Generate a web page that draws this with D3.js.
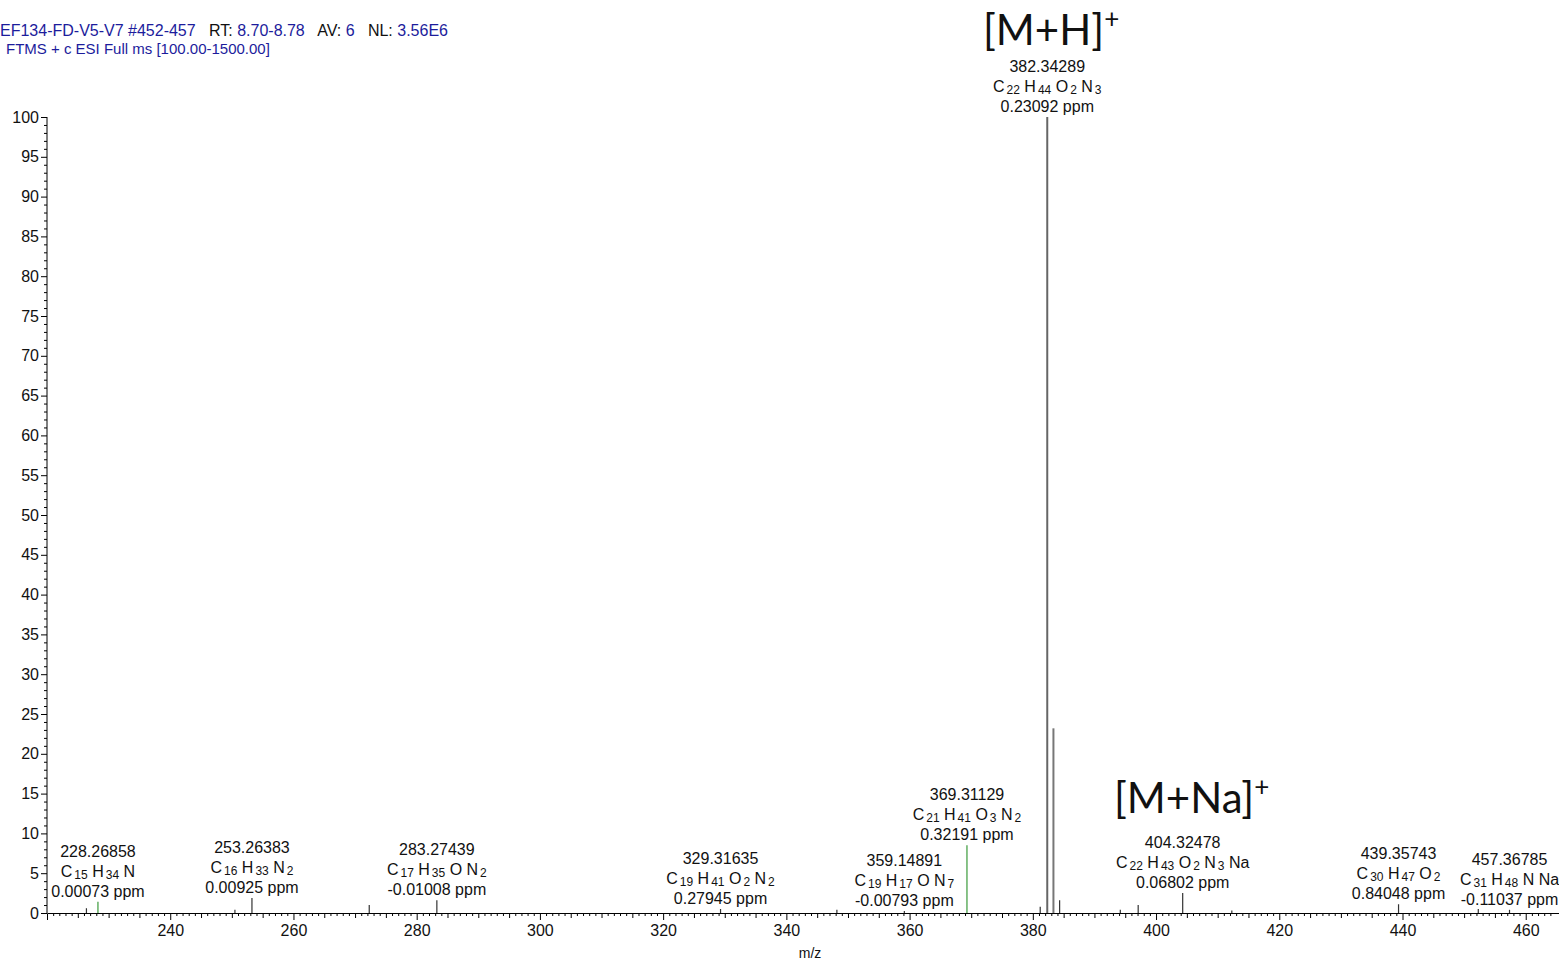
<!DOCTYPE html>
<html><head><meta charset="utf-8">
<script src="https://cdn.jsdelivr.net/npm/d3@7/dist/d3.min.js"></script>
<style>body{margin:0;background:#fff;} svg{display:block;}</style>
</head><body>
<svg id="c" width="1559" height="962"></svg>
<script>
// Labeled peaks
const peakMz = [228.26858, 253.26383, 283.27439, 329.31635, 359.14891, 369.31129, 382.34289, 404.32478, 439.35743, 457.36785];
const peakInt = [1.4, 1.9, 1.6, 0.5, 0.25, 8.5, 100, 2.5, 1.1, 0.4];
const peakFormula = [
  [["C","15"],["H","34"],["N",""]],
  [["C","16"],["H","33"],["N","2"]],
  [["C","17"],["H","35"],["O",""],["N","2"]],
  [["C","19"],["H","41"],["O","2"],["N","2"]],
  [["C","19"],["H","17"],["O",""],["N","7"]],
  [["C","21"],["H","41"],["O","3"],["N","2"]],
  [["C","22"],["H","44"],["O","2"],["N","3"]],
  [["C","22"],["H","43"],["O","2"],["N","3"],["Na",""]],
  [["C","30"],["H","47"],["O","2"]],
  [["C","31"],["H","48"],["N",""],["Na",""]]
];
const peakPpm = ["0.00073", "0.00925", "-0.01008", "0.27945", "-0.00793", "0.32191", "0.23092", "0.06802", "0.84048", "-0.11037"];
const peakGreen = [true, false, false, false, false, true, false, false, false, false];
// Unlabeled peaks
const minorMz = [383.346, 384.35, 381.2, 397.1, 272.3, 226.4, 250.5, 348.2, 412.3, 452.3, 394.2];
const minorInt = [23.2, 1.6, 0.8, 1.0, 1.0, 0.6, 0.4, 0.4, 0.3, 0.5, 0.4];
const yTicks = [0,5,10,15,20,25,30,35,40,45,50,55,60,65,70,75,80,85,90,95,100];
const xTicks = [240,260,280,300,320,340,360,380,400,420,440,460];

const svg = d3.select("#c");
const x = d3.scaleLinear().domain([220.0, 465.4]).range([47, 1559]);
const y = d3.scaleLinear().domain([0, 100]).range([913, 117]);
const font = "Liberation Sans, Arial, sans-serif";
const fs = 16;

// header
const h1 = svg.append("text").attr("x", 0).attr("y", 36).attr("font-family", font).attr("font-size", fs);
[["EF134-FD-V5-V7 #452-457","#1c1c9c"],["   RT: ","#111"],["8.70-8.78","#1c1c9c"],["   AV: ","#111"],["6","#1c1c9c"],["   NL: ","#111"],["3.56E6","#1c1c9c"]]
  .forEach(([t,c]) => h1.append("tspan").attr("fill", c).style("white-space","pre").text(t));
svg.append("text").attr("x", 6).attr("y", 54).attr("font-family", font).attr("font-size", 15)
  .attr("fill", "#1c1c9c").text("FTMS + c ESI Full ms [100.00-1500.00]");

// y axis
const yAxis = d3.axisLeft(y).tickValues(yTicks).tickSize(6).tickPadding(2).tickFormat(d3.format("d"));
const gy = svg.append("g").attr("transform", "translate(47,0)").call(yAxis);
gy.select(".domain").attr("d", `M0,${y(100)}V${y(0)}`);
gy.selectAll("text").attr("font-family", font).attr("font-size", fs).attr("fill", "#111");
const gyMinor = svg.append("g").attr("transform", "translate(47,0)")
  .call(d3.axisLeft(y).tickValues(d3.range(0, 101, 1).filter(v => v % 5)).tickSize(3).tickFormat(""));
gyMinor.select(".domain").remove();

// x axis
const xAxis = d3.axisBottom(x).tickValues(xTicks).tickSize(7).tickPadding(5).tickFormat(d3.format("d"));
const gx = svg.append("g").attr("transform", `translate(0,${y(0)})`).call(xAxis);
gx.selectAll("text").attr("font-family", font).attr("font-size", fs).attr("fill", "#111");
const mid = d3.range(225, 465, 5).filter(v => v % 20);
svg.append("g").attr("transform", `translate(0,${y(0)})`)
  .call(d3.axisBottom(x).tickValues(mid).tickSize(5).tickFormat("")).select(".domain").remove();
const minor = d3.range(221, 466, 1).filter(v => v % 5);
svg.append("g").attr("transform", `translate(0,${y(0)})`)
  .call(d3.axisBottom(x).tickValues(minor).tickSize(3).tickFormat("")).select(".domain").remove();
svg.append("text").attr("x", 810).attr("y", 958).attr("text-anchor", "middle")
  .attr("font-family", font).attr("font-size", 14).attr("fill", "#111").text("m/z");

// peaks
svg.append("g").selectAll("line").data(minorMz.map((m,i)=>({m, v: minorInt[i]}))).join("line")
  .attr("x1", d => x(d.m)).attr("x2", d => x(d.m)).attr("y1", y(0)).attr("y2", d => y(d.v))
  .attr("stroke", d => d.v > 5 ? "#777" : "#333").attr("stroke-width", d => d.v > 5 ? 2 : 1.2);
svg.append("g").selectAll("line").data(peakMz.map((m,i)=>({m, v: peakInt[i], g: peakGreen[i]}))).join("line")
  .attr("x1", d => x(d.m)).attr("x2", d => x(d.m)).attr("y1", y(0)).attr("y2", d => y(d.v))
  .attr("stroke", d => d.g ? "#3a9a3a" : (d.v > 50 ? "#666" : "#333"))
  .attr("stroke-width", d => d.v > 50 ? 2 : 1.2);

// labels
peakMz.forEach((m, i) => {
  const cx = x(m), base = y(peakInt[i]) - 5;
  const g = svg.append("g").attr("font-family", font).attr("font-size", fs).attr("fill", "#111").attr("text-anchor", "middle");
  g.append("text").attr("x", cx).attr("y", base - 40).text(m.toFixed(5));
  const f = g.append("text").attr("x", cx).attr("y", base - 20).style("white-space", "pre");
  let shifted = false;
  peakFormula[i].forEach(([el, n], j) => {
    f.append("tspan").attr("dy", shifted ? -2 : 0).text((j ? " " : "") + el);
    shifted = false;
    if (n) { f.append("tspan").attr("font-size", 12).attr("dx", 2).attr("dy", 2).text(n); shifted = true; }
  });
  g.append("text").attr("x", cx).attr("y", base).text(peakPpm[i] + " ppm");
});

// ion annotations
const big = "Lato, 'Open Sans', sans-serif";
const t1 = svg.append("text").attr("x", 983).attr("y", 45).attr("font-family", big).attr("font-size", 42).attr("fill", "#111");
t1.append("tspan").text("[M+H]");
t1.append("tspan").attr("font-size", 26).attr("dy", -17).text("+");
const t2 = svg.append("text").attr("x", 1114).attr("y", 813).attr("font-family", big).attr("font-size", 42).attr("fill", "#111");
t2.append("tspan").text("[M+Na]");
t2.append("tspan").attr("font-size", 26).attr("dy", -17).text("+");
</script>
</body></html>
